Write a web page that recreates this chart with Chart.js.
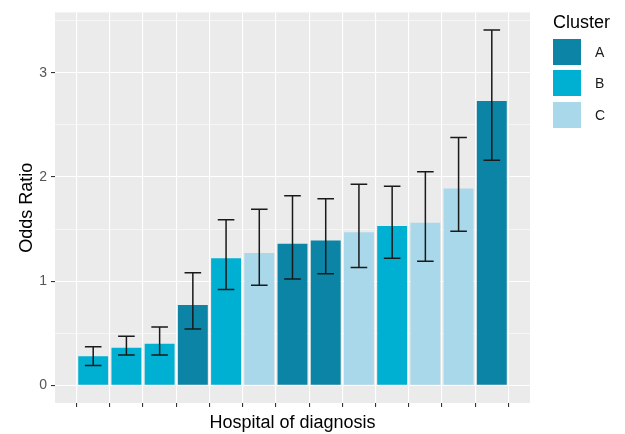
<!DOCTYPE html>
<html>
<head>
<meta charset="utf-8">
<script src="https://cdn.jsdelivr.net/npm/chart.js@4"></script>
<style>
  body { margin: 0; background: #fff; }
  #wrap { position: relative; width: 625px; height: 434px; }
  #legend { position: absolute; left: 553px; top: 10px; font-family: "Liberation Sans", Arial, sans-serif; }
  #legend .title { font-size: 18px; color: #000; height: 26px; line-height: 24px; }
  #legend .key { display: flex; align-items: center; height: 31.5px; }
  #legend .sw { width: 28px; height: 26px; margin-right: 14px; }
  #legend .lab { font-size: 14px; color: #1a1a1a; }
</style>
</head>
<body>
<div id="wrap">
  <canvas id="chart" width="625" height="434"></canvas>
  <div id="legend"></div>
</div>
<script>
// hospitals sorted by odds ratio
const hospitals = ['H1','H2','H3','H4','H5','H6','H7','H8','H9','H10','H11','H12','H13']
const oddsRatio = [0.28, 0.36, 0.40, 0.77, 1.22, 1.27, 1.36, 1.39, 1.47, 1.53, 1.56, 1.89, 2.73]
const ciLower   = [0.19, 0.29, 0.29, 0.54, 0.92, 0.96, 1.02, 1.07, 1.13, 1.22, 1.19, 1.48, 2.16]
const ciUpper   = [0.37, 0.47, 0.56, 1.08, 1.59, 1.69, 1.82, 1.79, 1.93, 1.91, 2.05, 2.38, 3.41]
const cluster   = ['B','B','B','A','B','C','A','A','C','B','C','C','A']
const clusters  = ['A','B','C']
const yTicks    = [0, 0.5, 1, 1.5, 2, 2.5, 3, 3.5]

const clusterColors = { A: '#0b84a5', B: '#00b0d2', C: '#a8d8ea' }

// legend
const legend = document.getElementById('legend')
legend.innerHTML = '<div class="title">Cluster</div>' + clusters.map(c =>
  `<div class="key"><div class="sw" style="background:${clusterColors[c]}"></div><span class="lab">${c}</span></div>`
).join('')

const panelBg = {
  id: 'panelBg',
  beforeDraw(chart) {
    const { ctx, chartArea: a } = chart
    ctx.save()
    ctx.fillStyle = '#ebebeb'
    ctx.fillRect(a.left, a.top, a.right - a.left, a.bottom - a.top)
    ctx.restore()
  }
}

const errorBars = {
  id: 'errorBars',
  afterDatasetsDraw(chart) {
    const { ctx } = chart
    const x = chart.scales.x, y = chart.scales.y
    const half = (x.getPixelForValue(0.25) - x.getPixelForValue(0))
    ctx.save()
    ctx.strokeStyle = '#1a1a1a'
    ctx.lineWidth = 1.5
    for (let i = 0; i < hospitals.length; i++) {
      const px = x.getPixelForValue(i)
      const lo = y.getPixelForValue(ciLower[i])
      const hi = y.getPixelForValue(ciUpper[i])
      ctx.beginPath()
      ctx.moveTo(px, lo); ctx.lineTo(px, hi)
      ctx.moveTo(px - half, lo); ctx.lineTo(px + half, lo)
      ctx.moveTo(px - half, hi); ctx.lineTo(px + half, hi)
      ctx.stroke()
    }
    ctx.restore()
  }
}

new Chart(document.getElementById('chart'), {
  type: 'bar',
  data: {
    datasets: [{
      data: oddsRatio.map((v, i) => ({ x: i, y: v })),
      backgroundColor: cluster.map(c => clusterColors[c]),
      borderWidth: 0,
      barPercentage: 0.9,
      categoryPercentage: 1
    }]
  },
  options: {
    responsive: false,
    animation: false,
    layout: { padding: { top: 12, right: 95, left: 0, bottom: 0 } },
    plugins: { legend: { display: false }, tooltip: { enabled: false } },
    scales: {
      x: {
        type: 'linear',
        min: -0.6,
        max: hospitals.length - 0.4,
        afterBuildTicks: s => { s.ticks = hospitals.map((h, i) => ({ value: i })) },
        afterFit: s => { s.height = 31 },
        ticks: { callback: () => '', padding: 0 },
        grid: { color: '#ffffff', lineWidth: 1.1, tickColor: '#333333', tickLength: 4 },
        border: { display: false },
        title: {
          display: true, text: 'Hospital of diagnosis', color: '#000',
          font: { family: 'Liberation Sans', size: 18 }, padding: { top: 0, bottom: 0 }
        }
      },
      y: {
        min: -0.17,
        max: 3.58,
        afterBuildTicks: s => { s.ticks = yTicks.map(v => ({ value: v })) },
        afterFit: s => { s.width = 55 },
        ticks: {
          callback: v => Number.isInteger(v) ? String(v) : '',
          color: '#555555', font: { family: 'Liberation Sans', size: 14 }, padding: 4
        },
        grid: {
          color: '#ffffff',
          lineWidth: c => Number.isInteger(c.tick.value) ? 1.1 : 0.55,
          tickColor: c => Number.isInteger(c.tick.value) ? '#333333' : 'rgba(0,0,0,0)',
          tickLength: 4
        },
        border: { display: false },
        title: {
          display: true, text: 'Odds Ratio', color: '#000',
          font: { family: 'Liberation Sans', size: 18 }, padding: { top: 16, bottom: 0 }
        }
      }
    }
  },
  plugins: [panelBg, errorBars]
})
</script>
</body>
</html>
